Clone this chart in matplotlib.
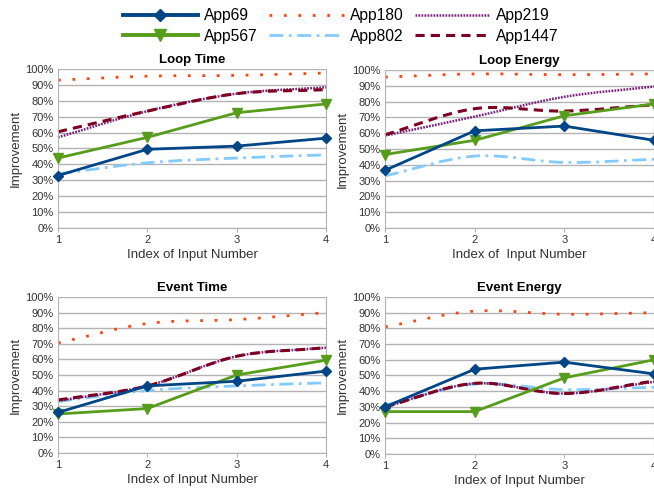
import numpy as np
import matplotlib
matplotlib.use("Agg")
import matplotlib.pyplot as plt
from matplotlib.path import Path
from matplotlib.patches import PathPatch
from matplotlib.lines import Line2D
from matplotlib.ticker import PercentFormatter

plt.rcParams['font.family'] = ['Liberation Sans', 'DejaVu Sans']

inputs = [1, 2, 3, 4]
apps = ["App69", "App180", "App219", "App567", "App802", "App1447"]

# improvement in %, per panel
loop_time = {
    "App69":   [33, 49.5, 51.5, 56.5],
    "App180":  [93, 95.5, 96, 97.5],
    "App219":  [57, 73.5, 84.5, 88.5],
    "App567":  [44, 57, 72.5, 78],
    "App802":  [34, 41, 44, 46],
    "App1447": [60.5, 73.5, 84.5, 87],
}
loop_energy = {
    "App69":   [36.5, 61.5, 64.5, 55.5],
    "App180":  [95.5, 97.5, 97, 97.5],
    "App219":  [58.5, 70.5, 83, 89.5],
    "App567":  [46.5, 55.5, 71, 78.5],
    "App802":  [33, 45.5, 41.5, 43.5],
    "App1447": [59, 75.5, 74, 78],
}
event_time = {
    "App69":   [26, 43, 46, 52.5],
    "App180":  [70.5, 83, 85.5, 90],
    "App219":  [33.5, 43, 62, 67.5],
    "App567":  [25, 28.5, 50, 59.5],
    "App802":  [33, 40, 43, 45],
    "App1447": [34, 43, 62, 67.5],
}
event_energy = {
    "App69":   [30, 54, 58.5, 51],
    "App180":  [81, 91, 89, 90],
    "App219":  [30, 45, 38.5, 46],
    "App567":  [27, 27, 48.5, 60],
    "App802":  [31, 44.5, 41, 42.5],
    "App1447": [30, 45, 38.5, 46.5],
}

styles = {
    "App69":   dict(color="#004586", lw=2.0, ls="-", marker="D", ms=5, smooth=False),
    "App180":  dict(color="#ff420e", lw=2.0, ls=(0, (1, 4.2)), marker=None, smooth=True),
    "App219":  dict(color="#7a1f7a", lw=1.8, ls=(0, (0.7, 0.5)), marker=None, smooth=True),
    "App567":  dict(color="#579d1c", lw=2.0, ls="-", marker="v", ms=7, smooth=False),
    "App802":  dict(color="#83caff", lw=2.0, ls=(0, (5, 2, 1, 2)), marker=None, smooth=True),
    "App1447": dict(color="#7e0021", lw=2.2, ls=(0, (3, 2)), marker=None, smooth=True),
}
draw_order = ["App802", "App219", "App1447", "App180", "App567", "App69"]


def spline_path(x, y):
    # cubic bezier through the points (catmull-rom tangents)
    p = np.column_stack([x, y]).astype(float)
    n = len(p)
    m = np.zeros_like(p)
    for i in range(n):
        a = p[max(i - 1, 0)]
        b = p[min(i + 1, n - 1)]
        m[i] = (b - a) / (2 if 0 < i < n - 1 else 1)
    verts = [p[0]]
    codes = [Path.MOVETO]
    for i in range(n - 1):
        verts += [p[i] + m[i] / 3, p[i + 1] - m[i + 1] / 3, p[i + 1]]
        codes += [Path.CURVE4] * 3
    return Path(verts, codes)


def panel(rect, title, data, xlabel):
    ax = fig.add_axes(rect)
    ax.set_xlim(1, 4)
    ax.set_ylim(0, 100)
    ax.set_yticks(np.arange(0, 101, 10))
    ax.set_xticks(inputs)
    ax.yaxis.set_major_formatter(PercentFormatter(decimals=0))
    ax.grid(axis="y", color="#b3b3b3", lw=1)
    ax.set_axisbelow(True)
    for s in ["left", "right", "bottom"]:
        ax.spines[s].set_color("#b3b3b3")
    ax.spines["top"].set_visible(False)
    ax.tick_params(axis="both", labelsize=8, colors="#b3b3b3", labelcolor="#333333",
                   length=3, pad=2)
    ax.tick_params(axis="y", length=0, pad=3)
    ax.set_title(title, fontsize=9.5, fontweight="bold", pad=4)
    ax.set_xlabel(xlabel, fontsize=9.5, color="#333333", labelpad=3)
    ax.set_ylabel("Improvement", fontsize=9.5, color="#333333", labelpad=3)
    for app in draw_order:
        st = styles[app]
        y = data[app]
        if st["smooth"]:
            patch = PathPatch(spline_path(inputs, y), facecolor="none", edgecolor=st["color"],
                              lw=st["lw"], ls=st["ls"], capstyle="butt", clip_on=False)
            ax.add_patch(patch)
        else:
            ax.plot(inputs, y, color=st["color"], lw=st["lw"], marker=st["marker"],
                    ms=st["ms"], clip_on=False, zorder=3)
    return ax


fig = plt.figure(figsize=(6.54, 4.9), dpi=100)

panel([0.0887, 0.5347, 0.4098, 0.3245], "Loop Time", loop_time, "Index of Input Number")
panel([0.5887, 0.5347, 0.4113, 0.3225], "Loop Energy", loop_energy, "Index of  Input Number")
panel([0.0887, 0.0755, 0.4098, 0.3184], "Event Time", event_time, "Index of Input Number")
panel([0.5887, 0.0735, 0.4113, 0.3204], "Event Energy", event_energy, "Index of Input Number")

handles = {}
for app in apps:
    st = styles[app]
    handles[app] = Line2D([], [], color=st["color"], lw=st["lw"] + (0.8 if st["marker"] else 0),
                          ls=st["ls"], marker=st["marker"], ms=st.get("ms", 0) + 1,
                          dash_capstyle="butt")
legend_order = ["App69", "App567", "App180", "App802", "App219", "App1447"]
fig.legend([handles[a] for a in legend_order], legend_order, loc="upper center",
           bbox_to_anchor=(0.521, 1.012), ncol=3, frameon=False, fontsize=11.25,
           handlelength=4.8, handletextpad=0.4, columnspacing=0.7, labelspacing=0.35,
           markerfirst=True)

fig.savefig("out.png", dpi=100)
